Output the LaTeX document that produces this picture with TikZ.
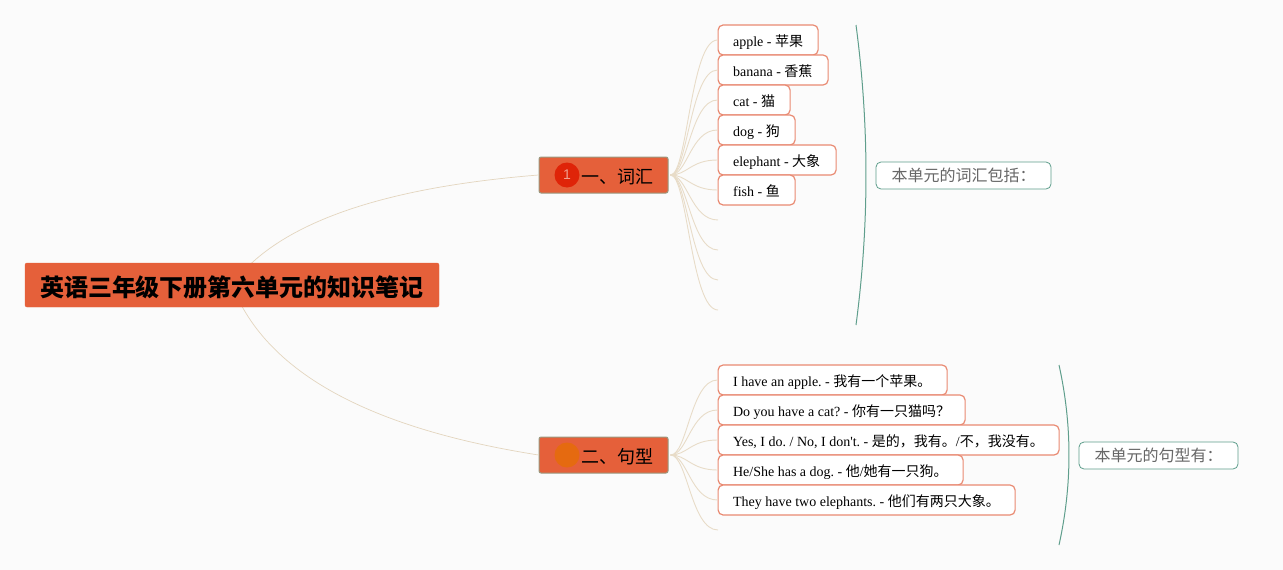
\documentclass[tikz,border=0pt]{standalone}
\usepackage{fontspec}
\setmainfont{Liberation Serif}
\newfontfamily\latinf{Liberation Serif}
\newfontfamily\cjk{Noto Sans CJK SC}
\newfontfamily\numfont{Liberation Sans}
\definecolor{bgc}{HTML}{FBFBFB}
\definecolor{orangefill}{HTML}{E5603A}
\definecolor{leafline}{HTML}{E98A72}
\definecolor{linkc}{HTML}{E8DCC8}
\definecolor{rootlinkc}{HTML}{E3D5BE}
\definecolor{tealc}{HTML}{5F9E8C}
\definecolor{maingray}{HTML}{9A9A80}
\definecolor{sumtext}{HTML}{666666}
\definecolor{iconA}{HTML}{DF2408}
\definecolor{iconB}{HTML}{E56A10}
\definecolor{iconAtext}{HTML}{F0A090}
\tikzset{
  x=1pt,y=-1pt,
  rootbox/.style={draw=orangefill,fill=orangefill,rounded corners=2pt,minimum width=414pt,minimum height=44pt,inner sep=0pt,text height=23pt,text depth=-1pt,font=\cjk\fontsize{24}{28}\selectfont\bfseries},
  mainbox/.style={draw=maingray,line width=1pt,fill=orangefill,rounded corners=2pt,minimum width=129pt,minimum height=36pt,inner sep=0pt},
  maintext/.style={inner sep=0pt,anchor=west,text height=16pt,text depth=0pt,font=\cjk\fontsize{18}{22}\selectfont},
  leafbox/.style={draw=leafline,line width=1.2pt,fill=white,rounded corners=5pt,minimum height=30pt,inner ysep=0pt,inner xsep=15pt,text width=#1pt-30pt,align=left,text height=12pt,text depth=0pt,anchor=west,font=\latinf\fontsize{14}{16}\selectfont\frenchspacing},
  sumbox/.style={draw=tealc,line width=0.8pt,fill=white,rounded corners=5pt,minimum height=27pt,inner sep=0pt,text=sumtext,font=\cjk\fontsize{16}{20}\selectfont},
  linkline/.style={draw=linkc,line width=0.9pt},
  rootlink/.style={draw=rootlinkc,line width=0.7pt},
  bracket/.style={draw=tealc,line width=1pt},
}
\newcommand{\zh}[1]{{\cjk #1}}
\newcommand{\lt}[1]{\mbox{\spaceskip=0pt \xspaceskip=0pt #1}}
\newcommand{\leaflink}[2]{\draw[linkline] (#1) .. controls ($(#1)+(17,0)$) and ($(#2)+(-27,0)$) .. (#2);}
\usetikzlibrary{calc}
\begin{document}
\begin{tikzpicture}
\useasboundingbox (0,0) rectangle (1283,570);
\fill[bgc] (0,0) rectangle (1283,570);
% hubs and free ends
\coordinate (rootc) at (232,285);
\coordinate (hubA) at (670.5,175);
\coordinate (hubB) at (670.5,455);
\coordinate (freeA) at (718,220);
\coordinate (freeB) at (718,250);
\coordinate (freeC) at (718,280);
\coordinate (freeD) at (718,310);
\coordinate (freeE) at (718,530);
% leaves
\node[leafbox=100] (a1) at (717.5,40) {\lt{apple - \zh{苹果}}};
\node[leafbox=110] (a2) at (717.5,70) {\lt{banana - \zh{香蕉}}};
\node[leafbox=72] (a3) at (717.5,100) {\lt{cat - \zh{猫}}};
\node[leafbox=77] (a4) at (717.5,130) {\lt{dog - \zh{狗}}};
\node[leafbox=118] (a5) at (717.5,160) {\lt{elephant - \zh{大象}}};
\node[leafbox=77] (a6) at (717.5,190) {\lt{fish - \zh{鱼}}};
\node[leafbox=229] (b1) at (717.5,380) {\lt{I have an apple. - \zh{我有一个苹果。}}};
\node[leafbox=247] (b2) at (717.5,410) {\lt{Do you have a cat? - \zh{你有一只猫吗？}}};
\node[leafbox=341] (b3) at (717.5,440) {\lt{Yes, I do. / No, I don't. - \zh{是的，我有。}/\zh{不，我没有。}}};
\node[leafbox=245] (b4) at (717.5,470) {\lt{He/She has a dog. - \zh{他}/\zh{她有一只狗。}}};
\node[leafbox=297] (b5) at (717.5,500) {\lt{They have two elephants. - \zh{他们有两只大象。}}};
% main nodes
\node[mainbox] (mA) at (603.5,175) {};
\node[mainbox] (mB) at (603.5,455) {};
\node[circle,fill=iconA,minimum size=25pt,inner sep=0pt,text=iconAtext,font=\numfont\fontsize{14}{16}\selectfont] (ico1) at (567,175) {1};
\node[circle,fill=iconB,minimum size=25pt,inner sep=0pt] (ico2) at (567,455) {};
\node[maintext] (tA) at (581,175) {一、词汇};
\node[maintext] (tB) at (581,455) {二、句型};
% root links, drawn under the root
\draw[rootlink] (rootc) .. controls (290,205) and (440,183) .. (mA.west);
\draw[rootlink] (rootc) .. controls (268,378) and (380,430) .. (mB.west);
\node[rootbox] (root) at (232,285) {英语三年级下册第六单元的知识笔记};
% leaf links
\foreach \t in {a1.west,a2.west,a3.west,a4.west,a5.west,a6.west,freeA,freeB,freeC,freeD}{\leaflink{hubA}{\t}}
\foreach \t in {b1.west,b2.west,b3.west,b4.west,b5.west,freeE}{\leaflink{hubB}{\t}}
% brackets and summaries
\coordinate (brA1) at (856,25);
\coordinate (brA2) at (856,325);
\coordinate (brB1) at (1059,365);
\coordinate (brB2) at (1059,545);
\draw[bracket] (brA1) .. controls (869.3,125) and (869.3,225) .. (brA2);
\draw[bracket] (brB1) .. controls (1072.3,425) and (1072.3,485) .. (brB2);
\node[sumbox,minimum width=175pt] (s1) at (963.5,175.5) {本单元的词汇包括：};
\node[sumbox,minimum width=159pt] (s2) at (1158.5,455.5) {本单元的句型有：};
\end{tikzpicture}
\end{document}
